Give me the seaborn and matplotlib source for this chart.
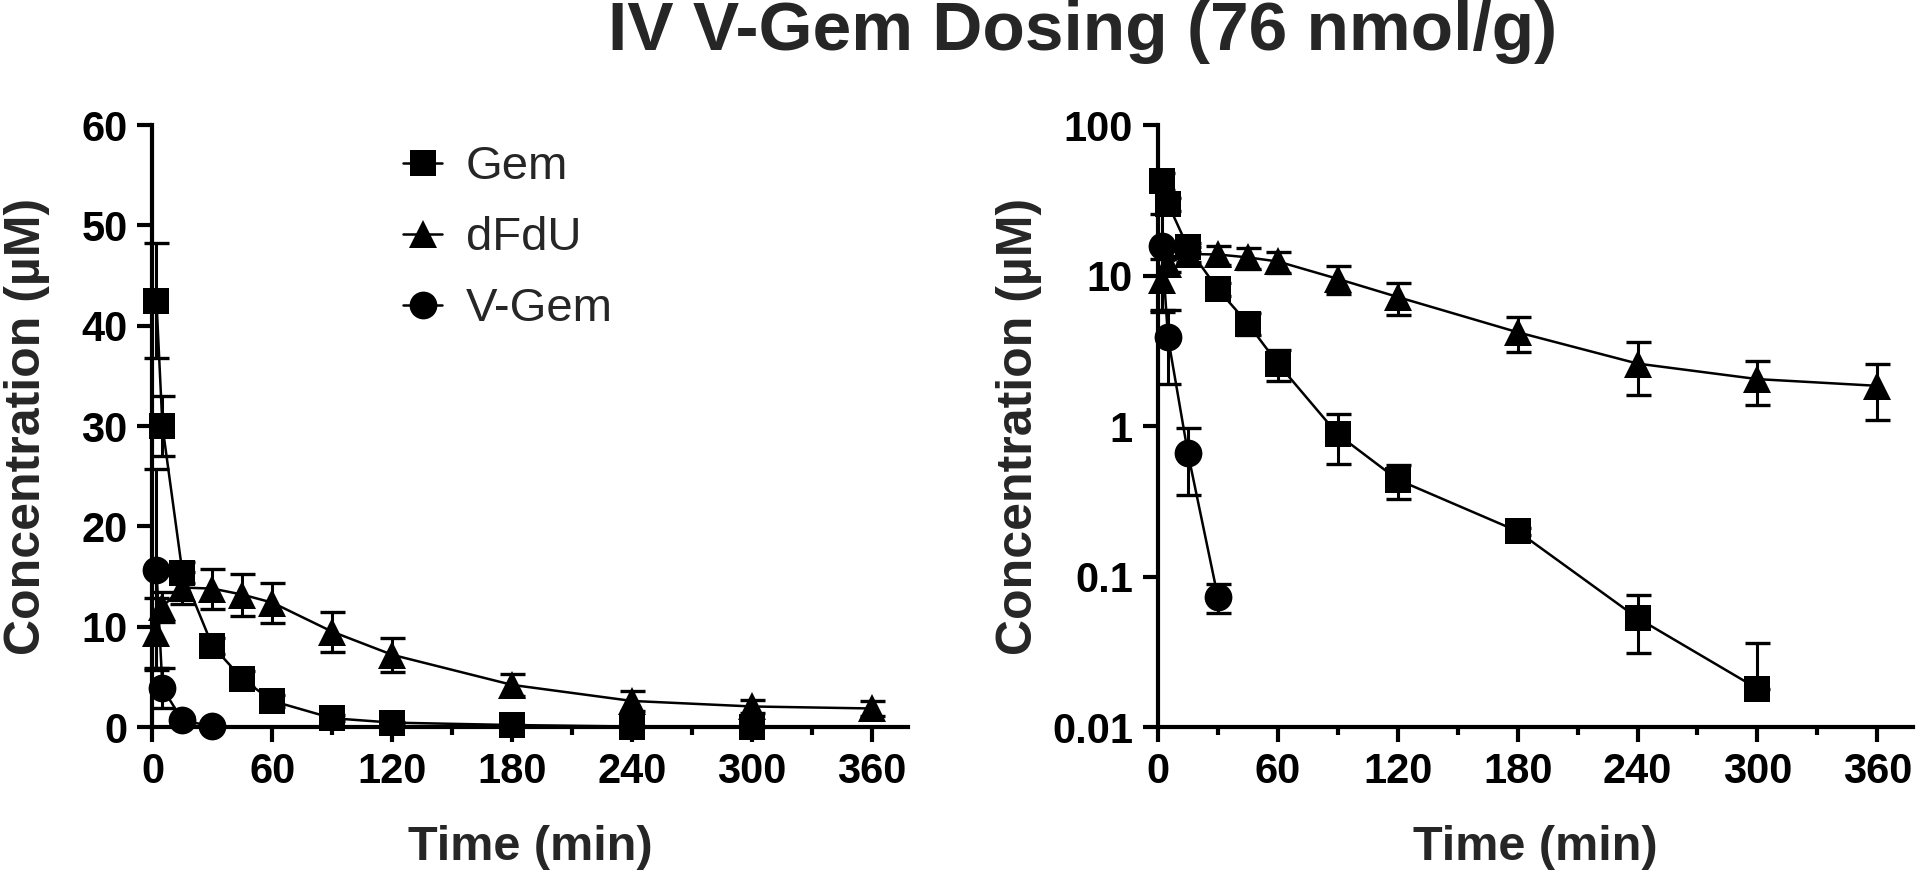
import numpy as np
import pandas as pd
import matplotlib
matplotlib.use("Agg")
import matplotlib.pyplot as plt
from matplotlib.lines import Line2D
from matplotlib.ticker import NullLocator, FixedLocator
import seaborn as sns

# ---------------- data ----------------
title = "IV V-Gem Dosing (76 nmol/g)"
series_names = ["Gem", "dFdU", "V-Gem"]

gem_time = [2, 5, 15, 30, 45, 60, 90, 120, 180, 240, 300]
gem_mean = [42.5, 30.0, 15.4, 8.1, 4.8, 2.6, 0.88, 0.44, 0.20, 0.053, 0.018]
gem_sd = [5.7, 3.0, 1.0, 0.8, 0.8, 0.6, 0.32, 0.11, 0.01, 0.022, 0.018]

dfdu_time = [2, 5, 15, 30, 45, 60, 90, 120, 180, 240, 300, 360]
dfdu_mean = [9.4, 12.0, 13.9, 13.8, 13.2, 12.4, 9.5, 7.2, 4.2, 2.6, 2.05, 1.85]
dfdu_sd = [3.5, 1.5, 1.6, 2.0, 2.1, 2.0, 2.0, 1.7, 1.1, 1.0, 0.67, 0.75]

vgem_time = [2, 5, 15, 30]
vgem_mean = [15.7, 3.9, 0.66, 0.073]
vgem_sd = [10.0, 2.0, 0.31, 0.016]

x_ticks = [0, 60, 120, 180, 240, 300, 360]
x_minor = [30, 90, 150, 210, 270, 330]
lin_ticks = [0, 10, 20, 30, 40, 50, 60]
log_ticks = [0.01, 0.1, 1, 10, 100]
log_labels = ["0.01", "0.1", "1", "10", "100"]
x_label = "Time (min)"
y_label = "Concentration (µM)"

# ---------------- build table ----------------
frames = []
for name, t, m, s in zip(series_names,
                         [gem_time, dfdu_time, vgem_time],
                         [gem_mean, dfdu_mean, vgem_mean],
                         [gem_sd, dfdu_sd, vgem_sd]):
    frames.append(pd.DataFrame({"Time": t, "Conc": m, "SD": s, "Analyte": name}))
data = pd.concat(frames, ignore_index=True)

markers = {"Gem": "s", "dFdU": "^", "V-Gem": "o"}
msizes = {"Gem": 18.5, "dFdU": 20, "V-Gem": 20}

sns.set_style("ticks")
plt.rcParams["font.family"] = ["Liberation Sans", "DejaVu Sans"]
plt.rcParams["font.weight"] = "bold"
plt.rcParams["axes.labelweight"] = "bold"

fig = plt.figure(figsize=(19.2, 8.75), dpi=100)
ax1 = fig.add_axes([0.0794, 0.1691, 0.3934, 0.688])
ax2 = fig.add_axes([0.6031, 0.1691, 0.3934, 0.688])

for ax, is_log in ((ax1, False), (ax2, True)):
    if is_log:
        ax.set_yscale("log")
    for name in series_names:
        d = data[data["Analyte"] == name]
        upper = d["SD"].to_numpy()
        lower = upper.copy()
        if is_log:
            lower = np.where(d["Conc"].to_numpy() - upper > 0, upper, 0.0)
        ax.errorbar(d["Time"], d["Conc"], yerr=[lower, upper], fmt="none",
                    ecolor="black", elinewidth=2.2, capsize=9, capthick=2.4,
                    clip_on=False, zorder=2)
        sns.lineplot(data=d, x="Time", y="Conc", ax=ax, color="black",
                     marker=markers[name], markersize=msizes[name],
                     markeredgewidth=0, markeredgecolor="black",
                     linewidth=1.8, clip_on=False, zorder=3, legend=False,
                     errorbar=None, sort=False)

    ax.set_xlim(0, 378)
    ax.xaxis.set_major_locator(FixedLocator(x_ticks))
    ax.xaxis.set_minor_locator(FixedLocator(x_minor))
    ax.set_xticklabels([str(v) for v in x_ticks])
    if is_log:
        ax.set_ylim(0.01, 100)
        ax.yaxis.set_major_locator(FixedLocator(log_ticks))
        ax.yaxis.set_minor_locator(NullLocator())
        ax.set_yticklabels(log_labels)
    else:
        ax.set_ylim(0, 60)
        ax.yaxis.set_major_locator(FixedLocator(lin_ticks))
        ax.set_yticklabels([str(v) for v in lin_ticks])

    sns.despine(ax=ax)
    for sp in ("left", "bottom"):
        ax.spines[sp].set_linewidth(3)
        ax.spines[sp].set_color("black")
    ax.tick_params(axis="both", which="major", length=11, width=3,
                   labelsize=30, pad=7, color="black", labelcolor="black")
    ax.tick_params(axis="x", which="minor", length=6, width=3, color="black")
    for lab in ax.get_xticklabels() + ax.get_yticklabels():
        lab.set_fontweight("bold")

    ax.set_xlabel(x_label, fontsize=35, fontweight="bold")
    ax.set_ylabel(y_label, fontsize=36, fontweight="bold")
    ax.xaxis.set_label_coords(0.5, -0.163)

ax1.yaxis.set_label_coords(-0.136, 0.5)
ax2.yaxis.set_label_coords(-0.154, 0.5)

handles = [Line2D([], [], color="black", marker=markers[n], markersize=msizes[n],
                  linewidth=1.8, markeredgewidth=0) for n in series_names]
fig.legend(handles, series_names, loc="upper left", bbox_to_anchor=(0.21, 0.834),
           frameon=False, prop={"size": 34, "weight": "normal"},
           handlelength=0.83, handletextpad=0.5, labelspacing=0.57,
           borderpad=0, borderaxespad=0)

fig.text(0.5637, 1 - 50 / 875, title, ha="center", va="baseline",
         fontsize=50, fontweight="bold")

fig.savefig("out.png", dpi=100)
